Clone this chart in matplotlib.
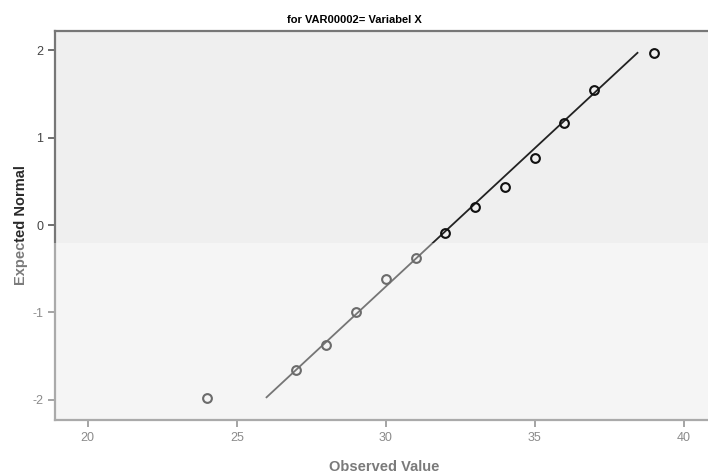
#!/usr/bin/env python3
import numpy as np
import matplotlib.pyplot as plt
from matplotlib.patches import Rectangle

plt.rcParams['font.family'] = ['Liberation Sans', 'DejaVu Sans']
plt.rcParams['axes.unicode_minus'] = False

observed = [24, 27, 28, 29, 30, 31, 32, 33, 34, 35, 36, 37, 39]
expected = [-1.98, -1.66, -1.37, -1.00, -0.62, -0.38, -0.09, 0.21, 0.43, 0.77, 1.17, 1.54, 1.97]

# reference normal line endpoints
line_x = [26.0, 38.45]
line_y = [-1.97, 1.97]

x_ticks = [20, 25, 30, 35, 40]
y_ticks = [-2, -1, 0, 1, 2]

fig = plt.figure(figsize=(7.08, 4.73), dpi=100)
ax = fig.add_axes([0.0777, 0.112, 0.93, 0.8225])
ax.set_facecolor('#efefef')

ax.plot(line_x, line_y, color='#222222', lw=1.3, zorder=2)
ax.plot(observed, expected, 'o', ms=6.3, mfc='none', mec='#111111', mew=1.5, zorder=3)

ax.set_xlim(18.9, 41.0)
ax.set_ylim(-2.23, 2.22)
ax.set_xticks(x_ticks)
ax.set_yticks(y_ticks)
ax.tick_params(direction='out', length=5, width=1.2, color='#555555', labelcolor='#444444', labelsize=9)
for s in ['left', 'top', 'bottom']:
    ax.spines[s].set_color('#777777')
    ax.spines[s].set_linewidth(1.6)
ax.spines['right'].set_visible(False)

ax.set_xlabel('Observed Value', fontsize=10.5, fontweight='bold', color='#2a2a2a', labelpad=12)
ax.set_ylabel('Expected Normal', fontsize=10.5, fontweight='bold', color='#2a2a2a', labelpad=3)
fig.text(0.5, 0.958, 'for VAR00002= Variabel X', ha='center', va='center', fontsize=8, fontweight='bold')

# faded lower part (watermark overlay)
fig.patches.append(Rectangle((0, 0), 1, 1 - 243 / 473, transform=fig.transFigure,
                             facecolor='white', alpha=0.38, edgecolor='none', zorder=10))

plt.savefig('out.png', dpi=100)
